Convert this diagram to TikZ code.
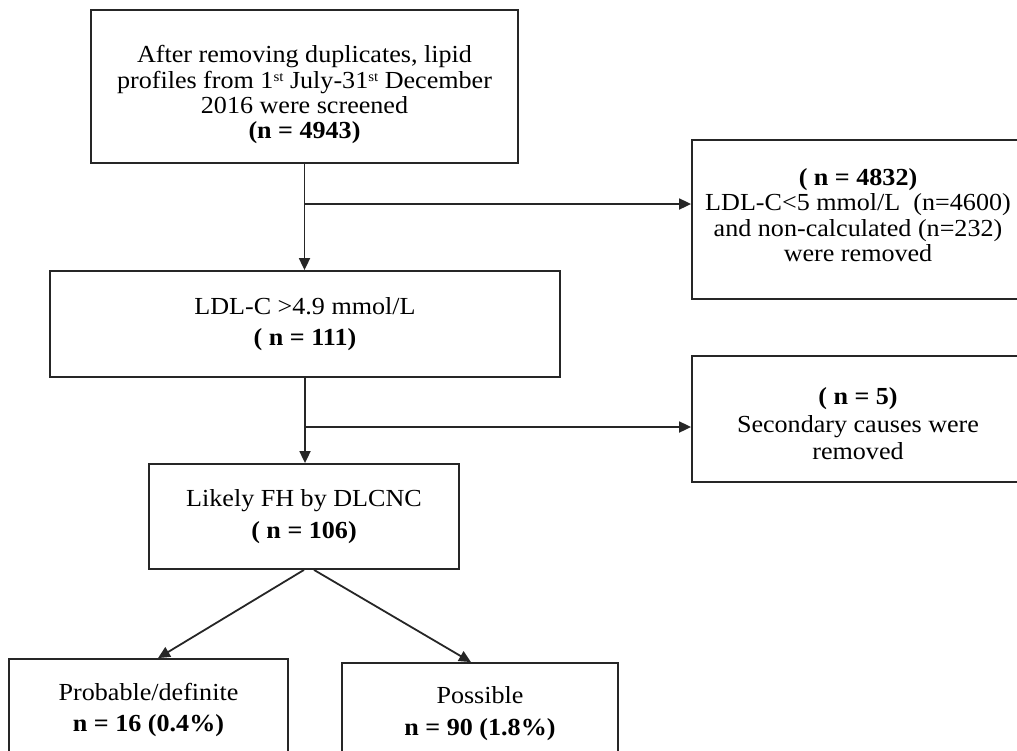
\documentclass[tikz,border=0pt]{standalone}
\usepackage{fontspec}
\setmainfont{Liberation Serif}[FakeStretch=1.065]
\usetikzlibrary{arrows.meta}
\newcommand{\ordsup}[1]{\raisebox{6.5pt}{\fontsize{14}{14}\selectfont #1}}
\tikzset{
	boxstyle/.style={rectangle,draw=black!85,line width=1.8pt,inner sep=0pt,align=center,font=\fontsize{24.5}{25.4}\selectfont},
	widestyle/.style={boxstyle,font=\fontsize{24.5}{31.5}\selectfont},
	flowstyle/.style={draw=black!85,line width=1.8pt,-{Triangle[length=12pt,width=11pt]}}
}

\begin{document}
\begin{tikzpicture}[x=1pt,y=-1pt]
	\useasboundingbox (0,0) rectangle (1017,750);
	\clip (0,0) rectangle (1017,750);
	\node[boxstyle,minimum width=427pt,minimum height=153pt] (screened) at (304.5,86.5) {\rule{0pt}{34pt}After removing duplicates, lipid\\profiles from 1\ordsup{st} July-31\ordsup{st} December\\2016 were screened\\\textbf{(n = 4943)}};
	\node[boxstyle,minimum width=332pt,minimum height=159pt] (removed1) at (858,219.5) {\textbf{( n = 4832)}\\LDL-C<5 mmol/L~ (n=4600)\\and non-calculated (n=232)\\were removed\rule[-9pt]{0pt}{9pt}};
	\node[widestyle,minimum width=510pt,minimum height=106pt] (ldl) at (305,324) {LDL-C >4.9 mmol/L\\\textbf{( n = 111)}};
	\node[boxstyle,minimum width=332pt,minimum height=126pt] (removed2) at (858,419) {\rule{0pt}{27pt}\textbf{( n = 5)}\\[2pt]Secondary causes were\\[2pt]removed};
	\node[widestyle,minimum width=310pt,minimum height=105pt] (likely) at (304,516.5) {Likely FH by DLCNC\\\textbf{( n = 106)}};
	\node[widestyle,minimum width=279pt,minimum height=98pt] (probable) at (148.5,708) {\rule{0pt}{21pt}Probable/definite\\\textbf{n = 16 (0.4\%)}};
	\node[widestyle,minimum width=276pt,minimum height=97pt] (possible) at (480,711.5) {\rule{0pt}{21pt}Possible\\\textbf{n = 90 (1.8\%)}};
	\coordinate (split1) at (305,204);
	\coordinate (split2) at (305,427);
	\draw[flowstyle] (screened.south) -- (screened.south |- ldl.north);
	\draw[flowstyle] (split1) -- (split1 -| removed1.west);
	\draw[flowstyle] (ldl.south) -- (ldl.south |- likely.north);
	\draw[flowstyle] (split2) -- (split2 -| removed2.west);
	\draw[flowstyle] (likely.south) -- ([xshift=9.5pt]probable.north);
	\draw[flowstyle] ([xshift=10pt]likely.south) -- ([xshift=-9pt]possible.north);
\end{tikzpicture}
\end{document}
